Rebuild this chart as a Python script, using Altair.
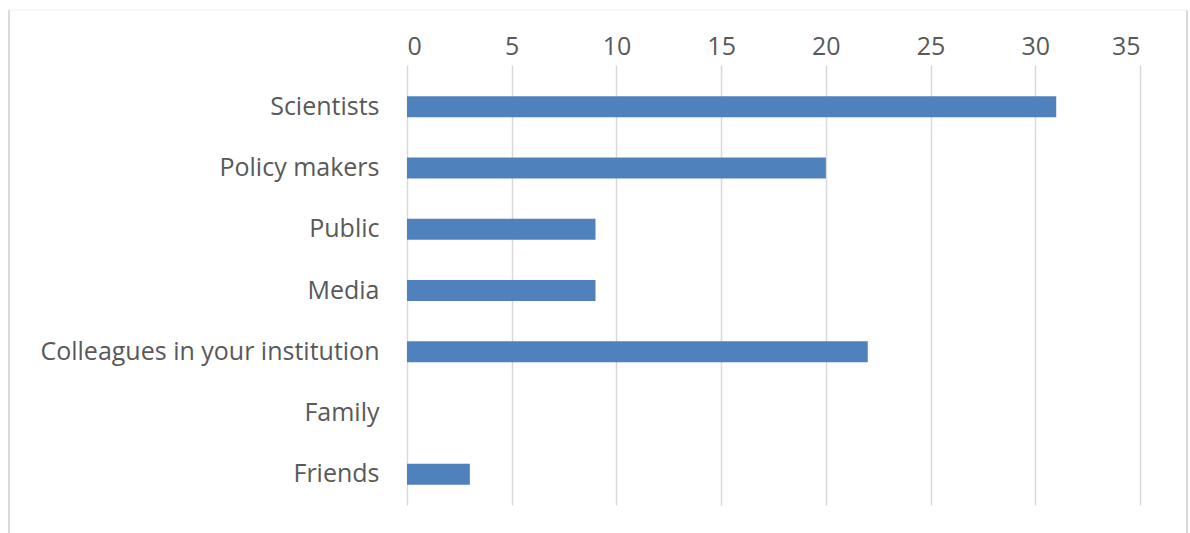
import altair as alt
import pandas as pd

categories = ["Scientists", "Policy makers", "Public", "Media",
              "Colleagues in your institution", "Family", "Friends"]
counts = [31, 20, 9, 9, 22, 0, 3]
x_ticks = [0, 5, 10, 15, 20, 25, 30, 35]

df = pd.DataFrame({"category": categories, "count": counts})

FONT = "Open Sans"
TEXT = "#595959"
GRID = "#d9d9d9"

bars = alt.Chart(df).mark_bar(color="#4f81bd").encode(
    x=alt.X("count:Q",
            scale=alt.Scale(domain=[0, 35], nice=False, zero=True),
            axis=alt.Axis(orient="top", values=x_ticks, title=None,
                          domain=False, ticks=True, tickSize=11, tickColor=GRID,
                          tickWidth=1.5,
                          grid=True, gridColor=GRID, gridWidth=1.5,
                          labelFont=FONT, labelFontSize=25, labelColor=TEXT,
                          labelPadding=6)),
    y=alt.Y("category:N", sort=categories,
            scale=alt.Scale(paddingInner=0.657, paddingOuter=0.3285),
            axis=alt.Axis(title=None, domain=False, ticks=False, grid=False,
                          labelFont=FONT, labelFontSize=25, labelColor=TEXT,
                          labelPadding=28, labelLimit=400)),
)

border_df = pd.DataFrame({"k": [0]})
left = alt.Chart(border_df).mark_rule(color="#d9d9d9", strokeWidth=2).encode(
    x=alt.value(-398), y=alt.value(-66), y2=alt.value(470))
right = alt.Chart(border_df).mark_rule(color="#d9d9d9", strokeWidth=2).encode(
    x=alt.value(780), y=alt.value(-66), y2=alt.value(470))
top = alt.Chart(border_df).mark_rule(color="#f0f0f0", strokeWidth=1).encode(
    x=alt.value(-398), x2=alt.value(780), y=alt.value(-66))

chart = alt.layer(bars, left, right, top).properties(
    width=733, height=429,
    padding={"left": 407, "top": 76, "right": 50, "bottom": 28},
    autosize=alt.AutoSizeParams(type="none"),
    background="white",
).configure_view(stroke=None)

chart.save("out.html", embed_options={"renderer": "svg", "actions": False})
